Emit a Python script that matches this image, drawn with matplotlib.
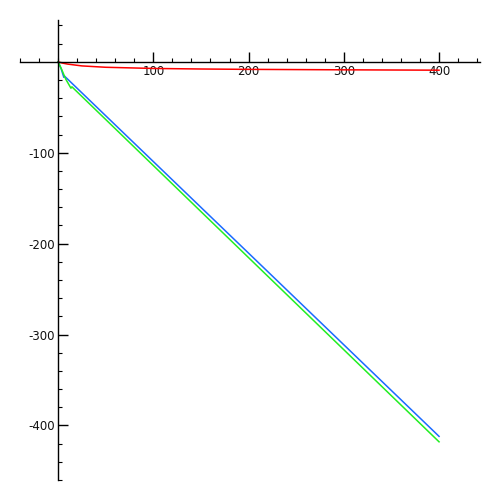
import matplotlib.pyplot as plt
from matplotlib.ticker import MultipleLocator

plt.rcParams["axes.unicode_minus"] = False

# series
red_x = [0, 5, 10, 25, 50, 100, 150, 200, 300, 400]
red_y = [0, -1.5, -2.5, -4.5, -6.0, -7.3, -7.9, -8.3, -8.8, -9.2]

blue_x = [0, 3, 6, 6.5, 400]
blue_y = [0, -7, -17, -15.5, -412]

green_x = [0, 4, 8, 13.5, 14.5, 400]
green_y = [0, -9, -19, -29, -27.5, -418]

xticks = [100, 200, 300, 400]
yticks = [-100, -200, -300, -400]

fig = plt.figure(figsize=(5, 5), dpi=100)
ax = fig.add_axes([0.04, 0.04, 0.92, 0.92])

ax.plot(red_x, red_y, color="#ff0000", lw=1.1)
ax.plot(blue_x, blue_y, color="#1a6aff", lw=1.1)
ax.plot(green_x, green_y, color="#22ee22", lw=1.1)

ax.set_xlim(-40, 443)
ax.set_ylim(-460, 46)

# axes crossing at the origin, sage style
ax.spines["left"].set_position(("data", 0))
ax.spines["bottom"].set_position(("data", 0))
ax.spines["right"].set_visible(False)
ax.spines["top"].set_visible(False)
for s in ("left", "bottom"):
    ax.spines[s].set_linewidth(1.0)

ax.set_xticks(xticks)
ax.set_yticks(yticks)
ax.xaxis.set_minor_locator(MultipleLocator(20))
ax.yaxis.set_minor_locator(MultipleLocator(20))

ax.tick_params(axis="x", which="both", direction="in", top=False, labelsize=8.5, pad=2)
ax.tick_params(axis="y", which="both", direction="in", right=False, labelsize=8.5, pad=2)
ax.tick_params(which="major", length=7, width=1)
ax.tick_params(which="minor", length=3, width=0.8)
ax.tick_params(labelcolor="#111111")

fig.savefig("out.png", dpi=100)
